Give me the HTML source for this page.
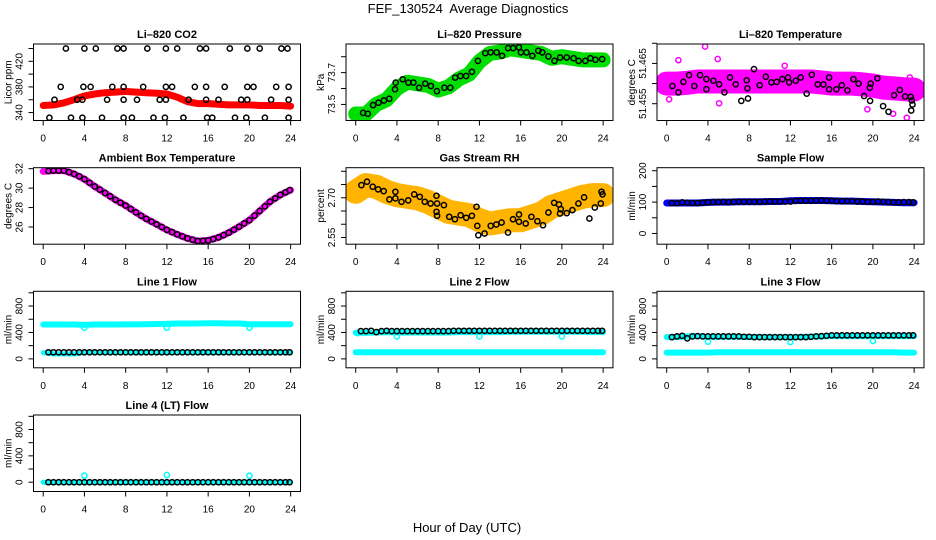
<!DOCTYPE html>
<html><head><meta charset="utf-8"><style>
html,body{margin:0;padding:0;background:#fff;}
svg{display:block;font-family:"Liberation Sans",sans-serif;}
</style></head><body>
<svg id="chart" width="936" height="540" viewBox="0 0 936 540" xmlns="http://www.w3.org/2000/svg">
<text x="468" y="13" font-size="13" text-anchor="middle">FEF_130524&#160; Average Diagnostics</text>
<text x="467" y="532" font-size="13" text-anchor="middle">Hour of Day (UTC)</text>
<g id="panels"></g>
</svg>
<script>
// ---------- data ----------
const hours = [0,1,2,3,4,5,6,7,8,9,10,11,12,13,14,15,16,17,18,19,20,21,22,23,24];
const halfHours = [0.5,1,1.5,2,2.5,3,3.5,4,4.5,5,5.5,6,6.5,7,7.5,8,8.5,9,9.5,10,10.5,11,11.5,12,12.5,13,13.5,14,14.5,15,15.5,16,16.5,17,17.5,18,18.5,19,19.5,20,20.5,21,21.5,22,22.5,23,23.5,23.9];

// CO2
const co2Red = [351,352,355,360,366,369,371,372,373,372,371,370,369,364,357,354,354,353,352,352,352,351,351,351,350];
const co2BlackHours = [2.2,4.0,5.1,7.2,7.8,10.1,11.9,13.0,15.2,15.8,18.1,19.8,21.0,23.1,23.7,
 1.7,3.9,4.6,6.7,7.8,9.7,11.9,12.5,14.7,15.8,17.6,19.8,20.4,22.6,23.8,
 1.1,3.3,3.8,6.2,7.8,9.1,11.3,11.9,14.1,15.8,17.0,19.2,19.8,22.1,23.8,
 0.6,2.7,3.8,5.7,7.8,8.6,10.7,11.8,13.6,15.9,16.4,18.6,19.7,21.5,23.8];
const co2BlackVals = [440,440,440,440,440,440,440,440,440,440,440,440,440,440,440,
 380,380,380,380,380,380,380,380,380,380,380,380,380,380,380,
 360,360,360,360,360,360,360,360,360,360,360,360,360,360,360,
 332,332,332,332,332,332,332,332,332,332,332,332,332,332,332];

// Pressure
const presGreen = [73.44,73.44,73.50,73.53,73.60,73.64,73.63,73.62,73.59,73.61,73.66,73.69,73.77,73.82,73.83,73.85,73.84,73.83,73.82,73.79,73.80,73.79,73.78,73.78,73.78];
const presBlackHours = [0.72,1.17,1.69,2.21,2.74,3.26,3.81,3.88,4.56,5.11,5.60,6.15,6.74,7.29,7.88,8.60,9.18,9.64,10.16,10.71,11.27,11.85,12.57,13.09,13.68,14.20,14.78,15.27,15.83,16.02,16.57,17.13,17.71,18.10,18.69,19.28,19.83,20.48,21.13,21.62,22.27,22.76,23.25,23.90];
const presBlackVals = [73.447,73.441,73.496,73.511,73.525,73.536,73.595,73.637,73.658,73.637,73.637,73.605,73.631,73.616,73.584,73.605,73.605,73.669,73.679,73.679,73.705,73.774,73.823,73.827,73.827,73.806,73.854,73.854,73.859,73.827,73.827,73.806,73.838,73.827,73.802,73.774,73.795,73.795,73.791,73.774,73.774,73.791,73.781,73.785];

// Li-820 temperature
const tempMagenta = [51.4600,51.4600,51.4602,51.4605,51.4605,51.4605,51.4605,51.4605,51.4605,51.4605,51.4605,51.4605,51.4605,51.4605,51.4605,51.4603,51.4600,51.4600,51.4600,51.4598,51.4595,51.4590,51.4588,51.4586,51.4585];
const tempOutHours = [3.72,1.13,4.95,5.08,0.23,19.47,21.96,23.29,23.58,11.45,13.74];
const tempOutVals = [51.4692,51.4658,51.4661,51.4551,51.4561,51.4536,51.4525,51.4515,51.4615,51.4644,51.4623];
const tempBlackHours = [0.55,1.13,1.62,2.17,2.68,3.23,3.85,3.85,4.53,5.08,5.60,6.14,6.69,7.24,7.76,7.83,7.89,8.47,9.02,9.61,10.16,10.67,11.22,11.77,11.87,12.52,13.00,13.58,14.07,14.65,15.20,15.75,15.75,16.46,16.98,17.53,18.11,18.60,19.15,19.70,19.73,19.79,20.44,20.99,21.51,22.06,22.61,23.12,23.67,23.77,23.84,23.71];
const tempBlackVals = [51.4594,51.4578,51.4604,51.4621,51.4594,51.4621,51.4611,51.4586,51.4607,51.4598,51.4578,51.4615,51.4598,51.4557,51.4608,51.4588,51.4563,51.4636,51.4596,51.4617,51.4603,51.4604,51.4611,51.4615,51.4603,51.4607,51.4615,51.4575,51.4622,51.4598,51.4598,51.4615,51.4586,51.4586,51.4596,51.4583,51.4611,51.4600,51.4569,51.4590,51.4557,51.4600,51.4613,51.4544,51.4530,51.4571,51.4584,51.4568,51.4567,51.4558,51.4548,51.4533];

// Ambient box temperature
const ambMagenta = [31.72,31.80,31.80,31.45,30.93,30.17,29.50,28.80,28.20,27.50,26.83,26.28,25.70,25.24,24.83,24.55,24.62,24.93,25.41,26.03,26.70,27.65,28.60,29.30,29.80];
const ambBlack = [31.76,31.80,31.80,31.80,31.65,31.45,31.20,30.93,30.55,30.17,29.85,29.50,29.15,28.80,28.50,28.20,27.85,27.50,27.15,26.83,26.55,26.28,26.00,25.70,25.47,25.24,25.03,24.83,24.69,24.55,24.58,24.62,24.77,24.93,25.17,25.41,25.72,26.03,26.37,26.70,27.17,27.65,28.12,28.60,28.95,29.30,29.57,29.80];

// Gas stream RH
const rhOrange = [2.7227,2.748,2.7417,2.7227,2.710,2.7038,2.6975,2.6848,2.666,2.647,2.6407,2.6343,2.6154,2.6028,2.609,2.6154,2.6154,2.628,2.6407,2.666,2.6785,2.6912,2.7038,2.710,2.710];
const rhBlackHours = [0.55,1.10,1.65,2.17,2.72,3.27,3.85,3.85,4.44,5.09,5.67,6.22,6.70,7.26,7.84,7.90,7.84,7.90,8.55,9.07,9.62,10.17,10.72,11.27,11.72,11.79,11.89,12.50,13.09,13.64,14.15,14.77,15.26,15.84,15.84,16.49,17.04,17.62,18.17,18.69,19.24,19.72,19.89,19.82,20.47,21.02,21.60,22.15,22.67,23.19,23.77,23.84,23.94];
const rhBlackVals = [2.7480,2.7606,2.7417,2.7316,2.7253,2.6937,2.7227,2.6975,2.6848,2.6899,2.7126,2.7038,2.6848,2.6785,2.7076,2.6785,2.6470,2.6318,2.6722,2.6280,2.6192,2.6343,2.6242,2.6318,2.6659,2.5939,2.5586,2.5649,2.5939,2.5990,2.6066,2.5687,2.6192,2.6369,2.6091,2.6028,2.6280,2.6116,2.5965,2.6444,2.6811,2.6747,2.6571,2.6407,2.6419,2.6533,2.6785,2.7013,2.6217,2.6634,2.6785,2.7227,2.7126];

// Sample flow
const sampleBlue = [97,97,97,97,99,100,100,101,101,101,102,102,104,105,105,105,104,103,103,102,101,100,99,98,98];
const sampleBlack = [97,96,99,98,97,97,98,99,100,100,101,100,101,101,101,101,101,101,102,102,102,102,102,102,104,104,104,104,105,105,104,104,103,103,103,103,102,102,101,101,102,101,100,99,99,100,100,99];

// Line 1 flow
const l1CyanHigh = [520,520,520,520,515,520,520,520,522,522,525,528,530,535,535,535,538,538,535,535,525,525,525,525,525];
const l1CyanLow = [95,75,75,75,95,95,95,95,95,95,95,95,95,95,95,95,95,95,95,95,95,95,95,95,95];
const l1Black = [100,100,100,100,100,100,100,100,100,100,100,100,100,100,100,100,100,100,100,100,100,100,100,100,100,100,100,100,100,100,100,100,100,100,100,100,100,100,100,100,100,100,100,100,100,100,100,100];
const l1DipHours = [4,12,20];
const l1DipVals = [470,470,470];

// Line 2 flow
const l2CyanHigh = [395,395,400,405,400,400,400,400,400,400,405,405,405,405,405,410,410,410,410,410,410,410,410,405,405];
const l2CyanLow = [100,100,100,100,100,100,100,100,100,100,100,100,100,100,100,100,100,100,100,100,100,100,100,100,100];
const l2Black = [420,420,425,405,420,425,420,420,420,420,420,420,420,420,420,420,420,420,425,425,425,425,425,425,425,425,425,425,425,425,425,425,425,425,425,425,425,425,425,425,425,425,425,425,425,425,425,425];
const l2DipHours = [0.2,4,12,20];
const l2DipVals = [390,340,340,340];

// Line 3 flow
const l3CyanHigh = [330,330,340,345,335,335,335,335,330,330,330,330,330,330,335,340,345,345,345,345,345,345,345,345,345];
const l3CyanLow = [95,95,95,95,95,100,100,100,100,100,100,100,100,100,100,100,100,100,100,100,100,100,100,95,95];
const l3Black = [330,340,350,310,340,345,340,340,340,340,340,340,340,340,335,335,330,330,330,330,330,330,330,330,330,330,330,335,340,345,350,355,355,355,355,355,355,355,355,355,355,355,355,355,355,355,355,355];
const l3DipHours = [4,12,20];
const l3DipVals = [260,255,270];

// Line 4 (LT) flow
const l4Cyan = [0,0,0,0,0,0,0,0,0,0,0,0,0,0,0,0,0,0,0,0,0,0,0,0,0];
const l4Black = [0,0,0,0,0,0,0,0,0,0,0,0,0,0,0,0,0,0,0,0,0,0,0,0,0,0,0,0,0,0,0,0,0,0,0,0,0,0,0,0,0,0,0,0,0,0,0,0];
const l4SpikeHours = [4,12,20];
const l4SpikeVals = [100,110,100];

// ---------- rendering ----------
const NS = "http://www.w3.org/2000/svg";
const root = document.getElementById('panels');
const COL_L = [33.5, 346, 657];
const ROW_T = [44, 167.7, 291.3, 415];
const BOX_W = 267, BOX_H = 76.5;
const X_TICKS = [0,4,8,12,16,20,24];

function mk(tag, parent) { const e = document.createElementNS(NS, tag); parent.appendChild(e); return e; }

function drawPanel(p) {
  const L = COL_L[p.col], T = ROW_T[p.row], B = T + BOX_H, R = L + BOX_W;
  const x0 = L + 9.7, xs = 10.31;
  const X = h => x0 + h * xs;
  const Y = v => B - (v - p.lo) / (p.hi - p.lo) * BOX_H;
  const g = mk('g', root);
  
  

  const clip = mk('clipPath', g); clip.setAttribute('id', 'clip-' + p.name);
  const cr = mk('rect', clip);
  cr.setAttribute('x', L); cr.setAttribute('y', T); cr.setAttribute('width', BOX_W); cr.setAttribute('height', BOX_H);
  const plot = mk('g', g);
  plot.setAttribute('clip-path', 'url(#clip-' + p.name + ')');
  
  

  p.series.forEach(s => {
    if (s.type === 'band') {
      const pl = mk('polyline', plot);
      
      
      pl.setAttribute('points', s.x.map((h, i) => X(h).toFixed(1) + ',' + Y(s.y[i]).toFixed(1)).join(' '));
      pl.setAttribute('fill', 'none');
      pl.setAttribute('stroke', s.color);
      pl.setAttribute('stroke-width', s.w);
      pl.setAttribute('stroke-linecap', 'round');
      pl.setAttribute('stroke-linejoin', 'round');
      if (s.opacity) pl.setAttribute('stroke-opacity', s.opacity);
    } else {
      s.x.forEach((h, i) => {
        const c = mk('circle', plot);
        
        
        c.setAttribute('cx', X(h).toFixed(1));
        c.setAttribute('cy', Y(s.y[i]).toFixed(1));
        c.setAttribute('r', s.r || 2.6);
        c.setAttribute('fill', 'none');
        c.setAttribute('stroke', s.color);
        c.setAttribute('stroke-width', s.sw || 1.5);
      });
    }
  });

  const box = mk('rect', g);
  
  
  box.setAttribute('x', L); box.setAttribute('y', T); box.setAttribute('width', BOX_W); box.setAttribute('height', BOX_H);
  box.setAttribute('fill', 'none'); box.setAttribute('stroke', '#000'); box.setAttribute('stroke-width', 1);

  const title = mk('text', g);
  
  
  title.setAttribute('x', (L + R) / 2); title.setAttribute('y', T - 6);
  title.setAttribute('text-anchor', 'middle'); title.setAttribute('font-size', '11'); title.setAttribute('font-weight', 'bold');
  title.textContent = p.title;

  X_TICKS.forEach(t => {
    const ln = mk('line', g);
    
    
    ln.setAttribute('x1', X(t)); ln.setAttribute('x2', X(t)); ln.setAttribute('y1', B); ln.setAttribute('y2', B + 5);
    ln.setAttribute('stroke', '#000');
    const tx = mk('text', g);
    
    
    tx.setAttribute('x', X(t)); tx.setAttribute('y', B + 21);
    tx.setAttribute('text-anchor', 'middle'); tx.setAttribute('font-size', '10');
    tx.textContent = t;
  });
  p.ticks.forEach(t => {
    const yy = Y(t);
    const ln = mk('line', g);
    
    
    ln.setAttribute('x1', L - 5); ln.setAttribute('x2', L); ln.setAttribute('y1', yy); ln.setAttribute('y2', yy);
    ln.setAttribute('stroke', '#000');
  });
  p.labels.forEach(t => {
    const yy = Y(t);
    const tx = mk('text', g);
    
    
    tx.setAttribute('transform', 'translate(' + (L - 11) + ',' + yy + ') rotate(-90)');
    tx.setAttribute('text-anchor', 'middle'); tx.setAttribute('font-size', '10');
    tx.textContent = p.fmt ? p.fmt(t) : t;
  });
  const yl = mk('text', g);
  
  
  yl.setAttribute('transform', 'translate(' + (L - 22) + ',' + (T + BOX_H / 2) + ') rotate(-90)');
  yl.setAttribute('text-anchor', 'middle'); yl.setAttribute('font-size', '10');
  yl.textContent = p.ylab;
}

const CY = '#00ffff';
const panels = [
  {name:'co2-panel', col:0,row:0,title:'Li\u2013820 CO2',ylab:'Licor ppm',lo:327.6,hi:447,ticks:[340,360,380,400,420,440],labels:[340,380,420],
   series:[{type:'band',name:'co2-dense-series',x:hours,y:co2Red,color:'#ff0000',w:7},
           {type:'pts',name:'co2-hourly-point',x:co2BlackHours,y:co2BlackVals,color:'#000'}]},
  {name:'pressure-panel', col:1,row:0,title:'Li\u2013820 Pressure',ylab:'kPa',lo:73.399,hi:73.880,ticks:[73.5,73.6,73.7,73.8],labels:[73.5,73.7],fmt:v=>v.toFixed(1),
   series:[{type:'band',name:'pressure-dense-series',x:hours,y:presGreen,color:'#00dd00',w:15},
           {type:'pts',name:'pressure-hourly-point',x:presBlackHours,y:presBlackVals,color:'#000'}]},
  {name:'li820-temp-panel', col:2,row:0,title:'Li\u2013820 Temperature',ylab:'degrees C',lo:51.45083,hi:51.46982,ticks:[51.455,51.46,51.465,51.47],labels:[51.455,51.465],fmt:v=>v.toFixed(3),
   series:[{type:'band',name:'temp-dense-series',x:hours,y:tempMagenta,color:'#ff00ff',w:24},
           {type:'pts',name:'temp-outlier-point',x:tempOutHours,y:tempOutVals,color:'#ff00ff'},
           {type:'pts',name:'temp-hourly-point',x:tempBlackHours,y:tempBlackVals,color:'#000'}]},
  {name:'ambient-temp-panel', col:0,row:1,title:'Ambient Box Temperature',ylab:'degrees C',lo:24.23,hi:32.1,ticks:[26,28,30,32],labels:[26,28,30,32],
   series:[{type:'band',name:'ambient-dense-series',x:hours,y:ambMagenta,color:'#ff00ff',w:7},
           {type:'pts',name:'ambient-hourly-point',x:halfHours,y:ambBlack,color:'#000'}]},
  {name:'rh-panel', col:1,row:1,title:'Gas Stream RH',ylab:'percent',lo:2.5246,hi:2.8136,ticks:[2.55,2.6,2.65,2.7,2.75,2.8],labels:[2.55,2.7],fmt:v=>v.toFixed(2),
   series:[{type:'band',name:'rh-dense-series',x:hours,y:rhOrange,color:'#ffb400',w:24},
           {type:'pts',name:'rh-hourly-point',x:rhBlackHours,y:rhBlackVals,color:'#000'}]},
  {name:'sample-flow-panel', col:2,row:1,title:'Sample Flow',ylab:'ml/min',lo:-34.2,hi:209.6,ticks:[0,50,100,150,200],labels:[0,100,200],
   series:[{type:'band',name:'sample-dense-series',x:hours,y:sampleBlue,color:'#0000ff',w:7},
           {type:'pts',name:'sample-hourly-point',x:halfHours,y:sampleBlack,color:'#000'}]},
  {name:'line1-flow-panel', col:0,row:2,title:'Line 1 Flow',ylab:'ml/min',lo:-135,hi:1023,ticks:[0,200,400,600,800,1000],labels:[0,400,800],
   series:[{type:'band',name:'line1-high-series',x:hours,y:l1CyanHigh,color:CY,w:6},
           {type:'band',name:'line1-low-series',x:hours,y:l1CyanLow,color:CY,w:5},
           {type:'pts',name:'line1-dip-point',x:l1DipHours,y:l1DipVals,color:CY},
           {type:'pts',name:'line1-hourly-point',x:halfHours,y:l1Black,color:'#000'}]},
  {name:'line2-flow-panel', col:1,row:2,title:'Line 2 Flow',ylab:'ml/min',lo:-135,hi:1023,ticks:[0,200,400,600,800,1000],labels:[0,400,800],
   series:[{type:'band',name:'line2-high-series',x:hours,y:l2CyanHigh,color:CY,w:6},
           {type:'band',name:'line2-low-series',x:hours,y:l2CyanLow,color:CY,w:6},
           {type:'pts',name:'line2-dip-point',x:l2DipHours,y:l2DipVals,color:CY},
           {type:'pts',name:'line2-hourly-point',x:halfHours,y:l2Black,color:'#000'}]},
  {name:'line3-flow-panel', col:2,row:2,title:'Line 3 Flow',ylab:'ml/min',lo:-135,hi:1023,ticks:[0,200,400,600,800,1000],labels:[0,400,800],
   series:[{type:'band',name:'line3-high-series',x:hours,y:l3CyanHigh,color:CY,w:6},
           {type:'band',name:'line3-low-series',x:hours,y:l3CyanLow,color:CY,w:6},
           {type:'pts',name:'line3-dip-point',x:l3DipHours,y:l3DipVals,color:CY},
           {type:'pts',name:'line3-hourly-point',x:halfHours,y:l3Black,color:'#000'}]},
  {name:'line4-flow-panel', col:0,row:3,title:'Line 4 (LT) Flow',ylab:'ml/min',lo:-141,hi:1020,ticks:[0,200,400,600,800,1000],labels:[0,400,800],
   series:[{type:'band',name:'line4-series',x:hours,y:l4Cyan,color:CY,w:5},
           {type:'pts',name:'line4-spike-point',x:l4SpikeHours,y:l4SpikeVals,color:CY},
           {type:'pts',name:'line4-hourly-point',x:halfHours,y:l4Black,color:'#000'}]}
];
panels.forEach(drawPanel);
</script>
</body></html>
